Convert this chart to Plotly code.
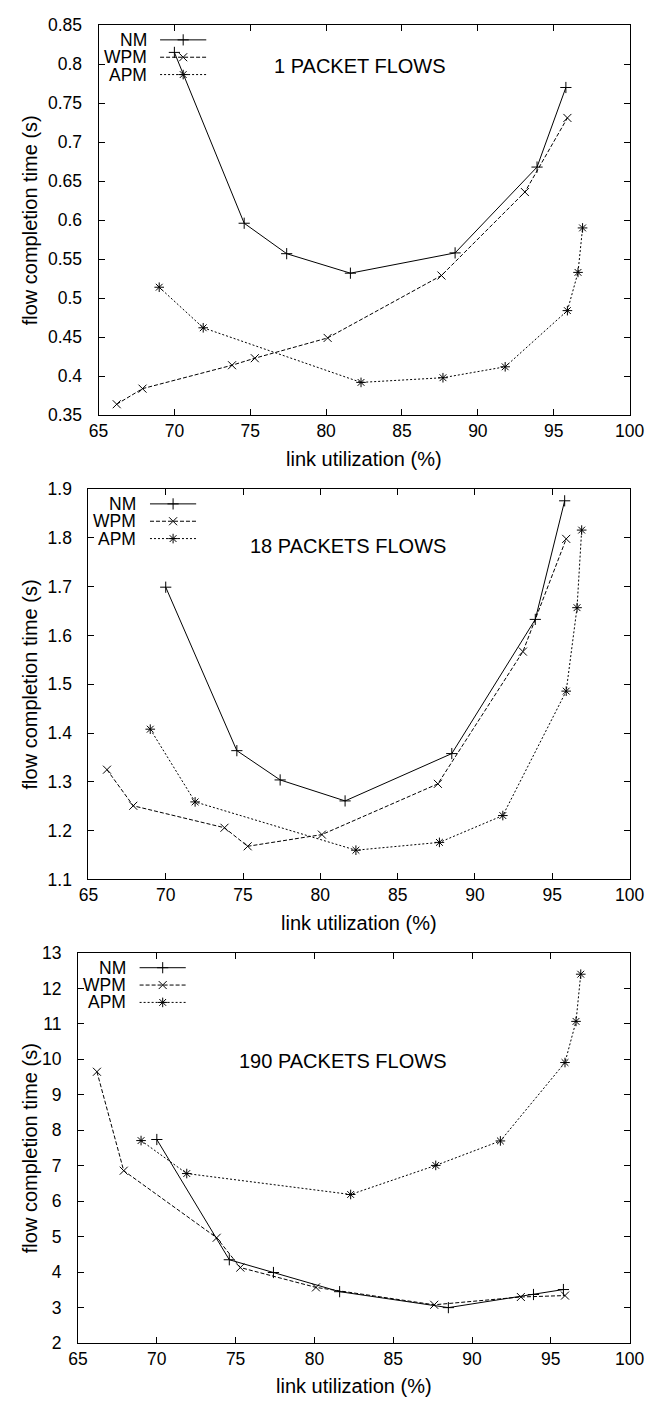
import plotly.graph_objects as go

# ---------------- data ----------------
NM_X = [70.0, 74.6, 77.4, 81.6, 88.5, 93.9, 95.8]
WPM_X = [66.2, 67.9, 73.8, 75.3, 80.1, 87.6, 93.1, 95.9]
APM_X = [69.0, 71.9, 82.3, 87.7, 91.8, 95.9, 96.6, 96.9]

NM_1 = [0.815, 0.596, 0.557, 0.532, 0.558, 0.668, 0.770]
WPM_1 = [0.364, 0.384, 0.414, 0.423, 0.449, 0.529, 0.636, 0.731]
APM_1 = [0.514, 0.462, 0.392, 0.398, 0.412, 0.484, 0.533, 0.590]

NM_18 = [1.699, 1.364, 1.304, 1.261, 1.358, 1.633, 1.876]
WPM_18 = [1.325, 1.251, 1.206, 1.168, 1.192, 1.296, 1.567, 1.798]
APM_18 = [1.408, 1.259, 1.160, 1.176, 1.231, 1.486, 1.657, 1.816]

NM_190 = [7.74, 4.35, 3.99, 3.45, 3.00, 3.37, 3.51]
WPM_190 = [9.65, 6.86, 4.97, 4.13, 3.57, 3.08, 3.30, 3.34]
APM_190 = [7.71, 6.78, 6.19, 7.01, 7.70, 9.91, 11.07, 12.40]

SERIES_NAMES = ["NM", "WPM", "APM"]
TITLES = ["1 PACKET FLOWS", "18 PACKETS FLOWS", "190 PACKETS FLOWS"]
X_TICKS = [65, 70, 75, 80, 85, 90, 95, 100]
X_TICKTEXT = ["65", "70", "75", "80", "85", "90", "95", "100"]
Y_TICKS_1 = [0.35, 0.4, 0.45, 0.5, 0.55, 0.6, 0.65, 0.7, 0.75, 0.8, 0.85]
Y_TICKTEXT_1 = ["0.35", "0.4", "0.45", "0.5", "0.55", "0.6", "0.65", "0.7", "0.75", "0.8", "0.85"]
Y_TICKS_2 = [1.1, 1.2, 1.3, 1.4, 1.5, 1.6, 1.7, 1.8, 1.9]
Y_TICKTEXT_2 = ["1.1", "1.2", "1.3", "1.4", "1.5", "1.6", "1.7", "1.8", "1.9"]
Y_TICKS_3 = list(range(2, 14))
Y_TICKTEXT_3 = [str(v) for v in Y_TICKS_3]
X_TITLE = "link utilization (%)"
Y_TITLE = "flow completion time (s)"

# ---------------- layout geometry (pixels) ----------------
W, H = 660, 1409
FONT = "Liberation Sans, Arial, Helvetica, sans-serif"
# (left, right, top, bottom) of each plot frame in px
FRAMES = [(92, 644, 15.3, 411), (81.5, 644, 486, 882), (70.7, 644, 956.5, 1352.3)]

STYLE = {
    "NM": dict(dash="solid", symbol="cross-thin-open"),
    "WPM": dict(dash="4px,2px", symbol="x-thin-open"),
    "APM": dict(dash="2px,2px", symbol="asterisk-open"),
}


def px(x):
    return x / W


def py(y):
    return 1 - y / H


fig = go.Figure()

panels = [
    (NM_1, WPM_1, APM_1, Y_TICKS_1, Y_TICKTEXT_1),
    (NM_18, WPM_18, APM_18, Y_TICKS_2, Y_TICKTEXT_2),
    (NM_190, WPM_190, APM_190, Y_TICKS_3, Y_TICKTEXT_3),
]

annotations = []
shapes = []

for i, (nm, wpm, apm, yt, ytt) in enumerate(panels):
    ax = "" if i == 0 else str(i + 1)
    xa, ya = "x" + ax, "y" + ax
    for name, xs, ys in (("NM", NM_X, nm), ("WPM", WPM_X, wpm), ("APM", APM_X, apm)):
        st = STYLE[name]
        fig.add_trace(go.Scatter(
            x=xs, y=ys, mode="lines+markers", name=name, showlegend=False,
            xaxis=xa, yaxis=ya,
            line=dict(color="black", width=1, dash=st["dash"]),
            marker=dict(symbol=st["symbol"], size=8, color="black",
                        line=dict(color="black", width=1)),
        ))
    l, r, t, b = FRAMES[i]
    axis_common = dict(
        showline=True, linecolor="black", linewidth=1, mirror="ticks",
        ticks="inside", ticklen=6, tickwidth=1, tickcolor="black",
        showgrid=False, zeroline=False,
        tickfont=dict(family=FONT, size=17.5, color="black"),
    )
    fig.update_layout(**{
        "xaxis" + ax: dict(axis_common, domain=[px(l), px(r)], range=[65, 100],
                           tickvals=X_TICKS, ticktext=X_TICKTEXT, anchor=ya,
                           ticklabelstandoff=0),
        "yaxis" + ax: dict(axis_common, domain=[py(b), py(t)], range=[yt[0], yt[-1]],
                           tickvals=yt, ticktext=ytt, anchor=xa,
                           ticklabelstandoff=12),
    })
    # axis titles
    annotations.append(dict(x=px((l + r) / 2), y=py(b + 44), xref="paper", yref="paper",
                            text=X_TITLE, showarrow=False, xanchor="center", yanchor="middle",
                            font=dict(family=FONT, size=20, color="black")))
    annotations.append(dict(x=px(21), y=py((t + b) / 2), xref="paper", yref="paper",
                            text=Y_TITLE, showarrow=False, textangle=-90,
                            xanchor="center", yanchor="middle",
                            font=dict(family=FONT, size=20, color="black")))
    # panel title
    title_y = [57, 544, 1066][i]
    annotations.append(dict(x=px(455), y=py(title_y), xref="paper", yref="paper",
                            text=TITLES[i], showarrow=False, xanchor="right", yanchor="middle",
                            font=dict(family=FONT, size=20, color="black")))
    # legend (text right-aligned, sample line to the right)
    for k, name in enumerate(SERIES_NAMES):
        ry = t + 15 + k * 17.6
        annotations.append(dict(x=px(l + 52), y=py(ry), xref="paper", yref="paper",
                                text=name, showarrow=False, xanchor="right", yanchor="middle",
                                font=dict(family=FONT, size=17.5, color="black")))
        shapes.append(dict(type="line", xref="paper", yref="paper",
                           x0=px(l + 64), x1=px(l + 112), y0=py(ry), y1=py(ry),
                           line=dict(color="black", width=1, dash=STYLE[name]["dash"])))

# legend sample markers drawn on an overlay axis in pixel units
leg_x, leg_y, leg_sym = [], [], []
for i in range(3):
    l, r, t, b = FRAMES[i]
    for k, name in enumerate(SERIES_NAMES):
        leg_x.append(l + 88)
        leg_y.append(t + 15 + k * 17.6)
        leg_sym.append(STYLE[name]["symbol"])
fig.add_trace(go.Scatter(
    x=leg_x, y=leg_y, mode="markers", showlegend=False, xaxis="x4", yaxis="y4",
    marker=dict(symbol=leg_sym, size=8, color="black", line=dict(color="black", width=1)),
    hoverinfo="skip",
))
fig.update_layout(
    xaxis4=dict(domain=[0, 1], range=[0, W], visible=False, anchor="y4"),
    yaxis4=dict(domain=[0, 1], range=[H, 0], visible=False, anchor="x4"),
)

fig.update_layout(
    width=W, height=H,
    margin=dict(l=0, r=0, t=0, b=0),
    paper_bgcolor="white", plot_bgcolor="rgba(0,0,0,0)",
    showlegend=False,
    annotations=annotations,
    shapes=shapes,
    font=dict(family=FONT, color="black"),
)

fig.write_html("out.html")
